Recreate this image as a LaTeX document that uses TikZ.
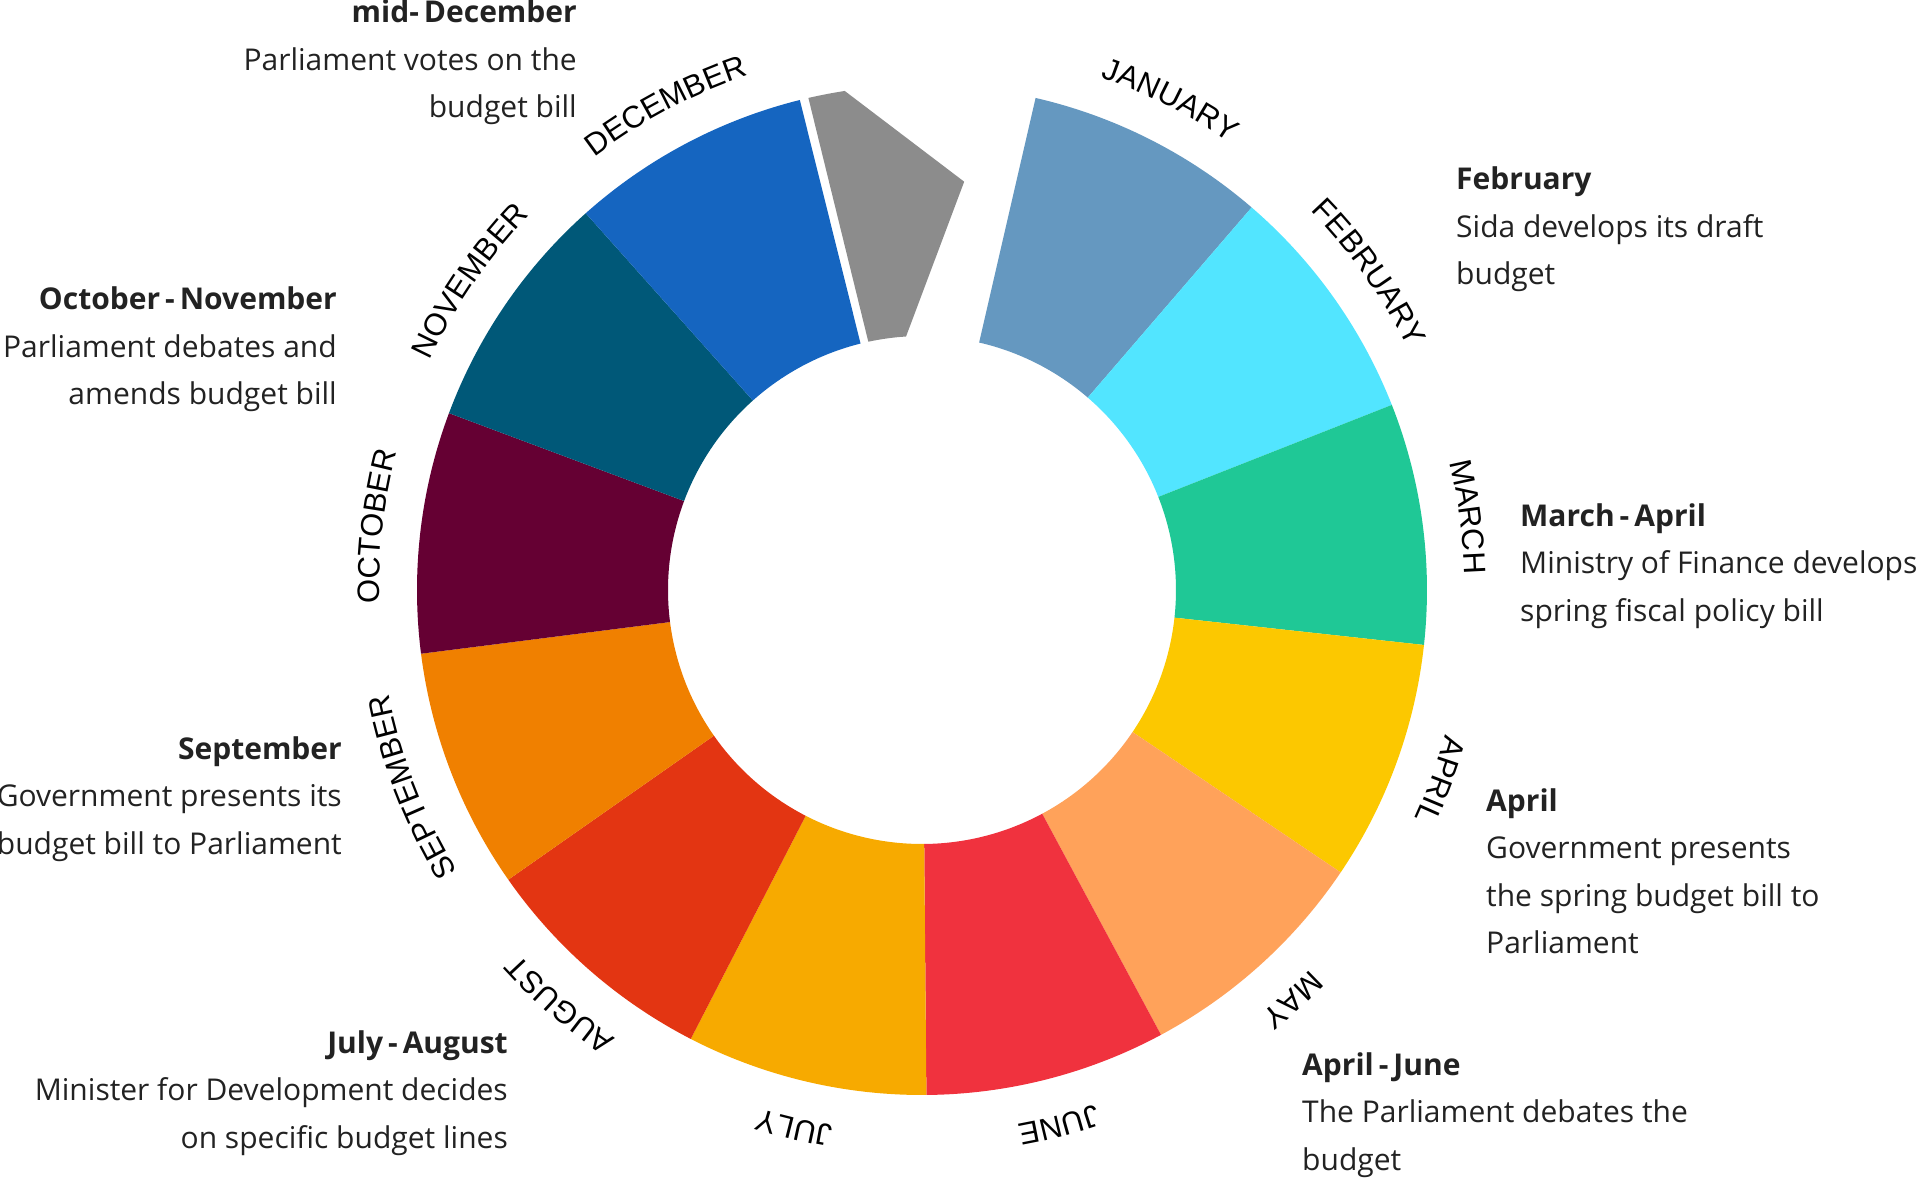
\documentclass[tikz,border=0pt]{standalone}
\usepackage{fontspec}
\setmainfont{Open Sans}
\newfontfamily\monthfont{Liberation Sans}
\usepackage{xcolor}
\usetikzlibrary{decorations.text}

\definecolor{janblue}{HTML}{6598C0}
\definecolor{febcyan}{HTML}{52E5FF}
\definecolor{margreen}{HTML}{1FC896}
\definecolor{apryellow}{HTML}{FCC800}
\definecolor{mayorange}{HTML}{FFA25A}
\definecolor{junred}{HTML}{F0323E}
\definecolor{julamber}{HTML}{F7AA00}
\definecolor{augred}{HTML}{E33512}
\definecolor{seporange}{HTML}{F08000}
\definecolor{octmaroon}{HTML}{650033}
\definecolor{novteal}{HTML}{005878}
\definecolor{decblue}{HTML}{1565C0}
\definecolor{midgray}{HTML}{8C8C8C}
\definecolor{inktext}{HTML}{222222}

\begin{document}
\begin{tikzpicture}[x=1pt, y=1pt,
  every node/.style={font=\fontsize{30}{47.5}\selectfont, text=inktext,
                     inner sep=0pt},
  noteright/.style={align=right, anchor=base east},
  noteleft/.style={align=left, anchor=base west},
]
  \useasboundingbox (-922,-588) rectangle (998,590);

  % Ring of months, clockwise from January
  \foreach \mcol [count=\i from 0] in {janblue, febcyan, margreen,
      apryellow, mayorange, junred, julamber, augred, seporange,
      octmaroon, novteal, decblue}{
    \pgfmathsetmacro\sa{77-27.75*\i}
    \pgfmathsetmacro\ea{\sa-27.75}
    \fill[\mcol] (\sa:254) arc[start angle=\sa, end angle=\ea, radius=254]
      -- (\ea:505) arc[start angle=\ea, end angle=\sa, radius=505] -- cycle;
  }

  % mid-December piece
  \fill[midgray] (103:505) arc[start angle=103, end angle=98.8, radius=505]
    -- (84.1:410.5) -- (93.6:254)
    arc[start angle=93.6, end angle=102.2, radius=254] -- cycle;

  % Month names along the ring
  \foreach \mname [count=\i from 0] in {JANUARY, FEBRUARY, MARCH, APRIL,
      MAY, JUNE, JULY, AUGUST, SEPTEMBER, OCTOBER, NOVEMBER, DECEMBER}{
    \pgfmathsetmacro\ma{77-27.75*\i-13.875}
    \color{inktext}\monthfont\fontsize{31}{31}\selectfont
    \path[decorate, decoration={text along path, text/.expanded=\mname,
          text align=center}]
      (\ma+18:543) arc[start angle=\ma+18, end angle=\ma-18, radius=543];
  }

  % Notes (anchored at the baseline of their last line)
  \node[noteright] (decnote) at (-345,472)
    {\textbf{mid-\,December}\\Parliament votes on the\\budget bill};
  \node[noteleft] (febnote) at (534,305)
    {\textbf{February}\\Sida develops its draft\\budget};
  \node[noteright] (octnote) at (-585,185)
    {\textbf{October\,-\,November}\\Parliament debates and\\amends budget bill};
  \node[noteleft] (marnote) at (598,-31)
    {\textbf{March\,-\,April}\\Ministry of Finance develops\\spring fiscal policy bill};
  \node[noteright] (sepnote) at (-580,-264)
    {\textbf{September}\\Government presents its\\budget bill to Parliament};
  \node[noteleft] (aprnote) at (564,-363.5)
    {\textbf{April}\\Government presents\\the spring budget bill to\\Parliament};
  \node[noteright] (julnote) at (-414,-558)
    {\textbf{July\,-\,August}\\Minister for Development decides\\on specific budget lines};
  \node[noteleft] (junnote) at (380,-580)
    {\textbf{April\,-\,June}\\The Parliament debates the\\budget};
\end{tikzpicture}
\end{document}
